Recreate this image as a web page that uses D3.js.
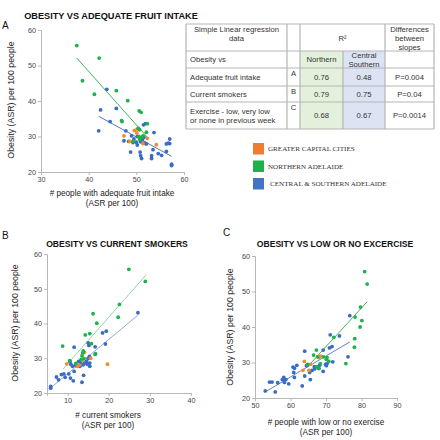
<!DOCTYPE html>
<html><head><meta charset="utf-8">
<script src="https://cdn.jsdelivr.net/npm/d3@7"></script>
<style>
html,body{margin:0;padding:0;background:#fff;}
svg{display:block;font-family:"Liberation Sans",Arial,sans-serif;}
</style></head>
<body>
<script>
// ---------- DATA ----------
// Panel A: adequate fruit intake vs obesity
const aGreen = [[37.5,55.6],[42.2,52.1],[38.7,45.7],[41.2,41.9],[45.8,42.9],[48.2,40.1],[46.9,34.5],[47.0,34.2],[50.6,37.2],[51.0,36.8],[52.3,33.6],[52.1,31.2],[50.4,32.3],[50.7,31.9],[50.5,30.0],[51.1,29.8],[51.4,30.2],[49.3,28.6],[50.7,29.1]];
const aBlue = [[43.8,43.3],[42.5,37.5],[45.8,37.9],[44.5,34.2],[42.1,31.6],[47.8,31.6],[47.4,28.8],[48.4,28.6],[48.8,25.6],[49.0,30.2],[49.5,29.3],[50.0,28.4],[50.2,30.0],[50.9,28.5],[51.3,29.1],[51.5,33.3],[51.9,33.6],[51.6,29.8],[51.8,28.1],[52.1,27.9],[50.8,25.6],[50.9,24.6],[51.1,23.8],[53.2,23.8],[53.2,24.6],[53.5,26.3],[53.7,31.1],[54.6,25.2],[55.3,24.7],[56.3,27.9],[56.7,28.1],[57.0,29.3],[57.0,28.0],[56.3,25.8],[57.4,22.2],[57.4,21.8],[50.2,27.6],[49.3,28.3]];
const aOrange = [[47.4,30.2],[48.6,28.6],[49.6,31.7],[50.2,32.1],[51.4,28.0],[52.3,29.5],[54.2,27.7],[50.1,31.0]];
const aGreenFit = [[37.5,52.1],[52.3,29.8]];
const aBlueFit = [[42.1,35.7],[57.4,24.4]];

// Panel B: current smokers vs obesity
const bGreen = [[24.9,55.6],[28.9,52.1],[22.6,45.5],[22.3,41.8],[17.1,40.1],[16.2,42.8],[14.3,36.7],[15.4,37.1],[8.8,33.5],[15.8,34.2],[16.8,31.3],[13.7,31.5],[13.5,30.7],[13.3,29.7],[14.0,29.9],[10.5,29.3],[12.0,28.5],[16.7,31.1],[13.8,32.1]];
const bBlue = [[27.1,43.1],[19.4,37.8],[18.5,37.3],[19.2,34.1],[16.7,33.3],[15.0,34.4],[15.2,33.7],[11.6,33.2],[15.3,30.5],[15.0,29.9],[14.6,29.1],[14.2,28.6],[13.8,28.1],[14.8,28.3],[15.4,27.7],[15.4,28.6],[13.0,27.7],[10.8,28.3],[11.2,27.7],[10.6,29.1],[12.0,27.9],[11.6,26.2],[10.3,25.5],[9.1,25.5],[8.5,25.3],[9.4,24.5],[7.3,24.6],[7.8,23.8],[10.7,24.3],[11.4,23.5],[13.5,23.1],[13.9,25.1],[5.9,21.9],[5.9,21.4],[12.7,29.1],[13.2,28.8]];
const bOrange = [[9.8,28.4],[12.4,27.7],[12.8,28.0],[14.1,31.7],[19.7,28.3],[15.6,30.0],[13.6,29.4]];
const bGreenFit = [[8.9,26.9],[29.1,54.0]];
const bBlueFit = [[5.7,21.3],[27.0,42.3]];

// Panel C: low or no exercise vs obesity
const cGreen = [[80.9,55.6],[81.6,52.1],[79.7,45.6],[78.2,42.8],[80.1,41.8],[79.6,40.0],[78.1,36.7],[78.0,34.3],[75.6,29.7],[72.2,37.1],[67.3,33.5],[66.5,32.1],[67.6,31.6],[69.3,31.6],[70.3,31.4],[70.1,30.9],[70.8,30.3],[64.8,29.5],[67.4,28.8],[67.9,28.4],[68.4,29.7]];
const cBlue = [[76.7,43.2],[71.2,37.8],[73.8,37.5],[64.0,33.2],[71.7,34.5],[71.0,34.1],[69.2,33.5],[76.2,31.6],[71.9,30.2],[69.9,29.5],[68.2,29.2],[68.0,28.3],[69.2,27.5],[66.1,27.8],[66.8,28.2],[65.4,27.2],[64.5,29.1],[61.8,29.2],[61.1,28.4],[60.7,28.7],[60.9,27.2],[61.1,25.8],[64.0,26.2],[65.6,25.2],[63.3,23.4],[58.1,25.8],[57.7,25.2],[58.7,25.2],[56.4,24.3],[58.3,24.4],[59.5,24.0],[54.8,24.5],[54.1,24.5],[55.7,21.7],[52.9,22.0],[70.1,29.1],[70.3,29.7],[66.7,28.8]];
const cOrange = [[63.9,30.3],[63.5,27.8],[65.2,27.8],[65.6,29.5],[68.4,31.8],[68.0,31.4]];
const cGreenFit = [[64.8,28.8],[81.6,47.1]];
const cBlueFit = [[52.7,21.6],[76.7,35.8]];

const yTicks = [20,30,40,50,60];
const aXTicks = [30,40,50,60];
const bXTicks = [10,20,30,40];
const cXTicks = [50,60,70,80,90];

// Table
const tableHeader1 = ["Simple Linear regression","data"];
const tableR2 = "R\u00B2";
const tableDiffHeader = ["Differences","between","slopes"];
const tableRowLabels = [["Obesity vs"],["Adequate fruit intake"],["Current smokers"],["Exercise - low, very low","or none in previous week"]];
const tableLetters = ["", "A","B","C"];
const tableNorthern = ["Northern","0.76","0.79","0.68"];
const tableCentral = [["Central","Southern"],["0.48"],["0.75"],["0.67"]];
const tablePvals = ["","P=0.004","P=0.04","P=0.0014"];

const legendLabels = ["GREATER CAPITAL CITIES","NORTHERN ADELAIDE","CENTRAL & SOUTHERN ADELAIDE"];

// ---------- STYLE ----------
const COL = {green:"#1fb14c", blue:"#3b6cc5", orange:"#f28a2e"};
const LEG = ["#ee7d33","#1eb04b","#4472c4"];

const svg = d3.select("body").append("svg").attr("width",440).attr("height",440);

function panel(o){
  const x = d3.scaleLinear().domain(o.xd).range(o.xr);
  const y = d3.scaleLinear().domain([20,60]).range(o.yr);
  const g = svg.append("g");
  const xa = g.append("g").attr("transform",`translate(0,${o.yr[0]})`)
    .call(d3.axisBottom(x).tickValues(o.xt).tickSize(3).tickPadding(2).tickFormat(d3.format("d")));
  const ya = g.append("g").attr("transform",`translate(${o.xr[0]},0)`)
    .call(d3.axisLeft(y).tickValues(yTicks).tickSize(3).tickPadding(2).tickFormat(d3.format("d")));
  [xa,ya].forEach(a=>{
    a.selectAll("path.domain").attr("stroke","#b8b8b8");
    a.selectAll(".tick line").attr("stroke","#b8b8b8");
    a.selectAll(".tick text").attr("fill","#444").style("font-size","7.2px").style("font-family","Liberation Sans, Arial, sans-serif");
  });
  const line = d3.line().x(d=>x(d[0])).y(d=>y(d[1]));
  g.append("path").attr("d",line(o.gf)).attr("stroke",o.lg).attr("stroke-width",1).attr("fill","none");
  g.append("path").attr("d",line(o.bf)).attr("stroke",o.lb).attr("stroke-width",1).attr("fill","none");
  const dots=(arr,c)=>g.append("g").selectAll("circle").data(arr).join("circle")
    .attr("cx",d=>x(d[0])).attr("cy",d=>y(d[1])).attr("r",1.9).attr("fill",c);
  dots(o.blue,COL.blue); dots(o.orange,COL.orange); dots(o.green,COL.green);
  // titles & labels
  g.append("text").attr("x",o.title[1]).attr("y",o.title[2]).attr("text-anchor","middle")
    .style("font-size",o.title[3]+"px").style("font-weight","bold").attr("fill","#111").text(o.title[0]);
  g.append("text").attr("x",o.letter[1]).attr("y",o.letter[2]).style("font-size","10px").attr("fill","#111").text(o.letter[0]);
  g.append("text").attr("transform",`translate(${o.ylab[0]},${o.ylab[1]}) rotate(-90)`).attr("text-anchor","middle")
    .attr("dy","0.35em").style("font-size","8.8px").attr("fill","#222").text("Obesity (ASR) per 100 people");
  g.append("text").attr("x",o.xlab[0]).attr("y",o.xlab[1]).attr("text-anchor","middle").style("font-size","8.2px").attr("fill","#222").text(o.xlab[2]);
  g.append("text").attr("x",o.xlab[0]).attr("y",o.xlab[1]+10).attr("text-anchor","middle").style("font-size","8.2px").attr("fill","#222").text("(ASR per 100)");
}

panel({xd:[30,60],xr:[41,184],yr:[172,30],xt:aXTicks,green:aGreen,blue:aBlue,orange:aOrange,gf:aGreenFit,bf:aBlueFit,
  lg:"#3fb35d",lb:"#5577c4",title:["OBESITY VS ADEQUATE FRUIT INTAKE",111,18.5,9.2],letter:["A",2,29],ylab:[11,100],xlab:[112,196,"# people with adequate fruit intake"]});
panel({xd:[5,40],xr:[47,191],yr:[393,254],xt:bXTicks,green:bGreen,blue:bBlue,orange:bOrange,gf:bGreenFit,bf:bBlueFit,
  lg:"#93d6a7",lb:"#95a9d9",title:["OBESITY VS CURRENT SMOKERS",117,246.5,8.6],letter:["B",2,239],ylab:[15,323],xlab:[108,418,"# current smokers"]});
panel({xd:[50,90],xr:[255,397],yr:[398,256],xt:cXTicks,green:cGreen,blue:cBlue,orange:cOrange,gf:cGreenFit,bf:cBlueFit,
  lg:"#44b560",lb:"#6383cc",title:["OBESITY VS LOW OR NO EXCERCISE",335,246.5,8.6],letter:["C",223,236],ylab:[230,327],xlab:[326,425,"# people with low or no exercise"]});

// ---------- TABLE ----------
const cols=[186,287,300,343,385,434];
const rows=[24,51,68,86,102,129];
const tg=svg.append("g").style("font-size","7.7px").attr("fill","#333");
tg.append("rect").attr("x",cols[2]).attr("y",rows[1]).attr("width",cols[3]-cols[2]).attr("height",rows[5]-rows[1]).attr("fill","#e3f0dc");
tg.append("rect").attr("x",cols[3]).attr("y",rows[1]).attr("width",cols[4]-cols[3]).attr("height",rows[5]-rows[1]).attr("fill","#dce4f4");
const ls="#b5b5b5";
rows.forEach(r=>tg.append("line").attr("x1",cols[0]).attr("x2",cols[5]).attr("y1",r).attr("y2",r).attr("stroke",ls).attr("stroke-width",1.2));
[0,1,2,4,5].forEach(i=>tg.append("line").attr("x1",cols[i]).attr("x2",cols[i]).attr("y1",rows[0]).attr("y2",rows[5]).attr("stroke",ls).attr("stroke-width",1.2));
tg.append("line").attr("x1",cols[3]).attr("x2",cols[3]).attr("y1",rows[1]).attr("y2",rows[5]).attr("stroke",ls).attr("stroke-width",1.2);
const T=(t,x,y,anc)=>tg.append("text").attr("x",x).attr("y",y).attr("text-anchor",anc||"start").attr("fill","#333").text(t);
T(tableHeader1[0],(cols[0]+cols[1])/2,32,"middle");
T(tableHeader1[1],(cols[0]+cols[1])/2,41,"middle");
T(tableR2,(cols[2]+cols[4])/2,41,"middle");
tableDiffHeader.forEach((t,i)=>T(t,(cols[4]+cols[5])/2,32+i*9.2,"middle"));
tableRowLabels.forEach((lab,i)=>{
  const top=rows[i+1], bot=rows[i+2], mid=(top+bot)/2;
  if(lab.length===1) T(lab[0],190,mid+2.8);
  else { T(lab[0],190,mid-1.6); T(lab[1],190,mid+7.2); }
  if(tableLetters[i]) T(tableLetters[i],(cols[1]+cols[2])/2,top+8,"middle");
  const c=tableCentral[i];
  if(c.length===1) T(c[0],(cols[3]+cols[4])/2,mid+2.8,"middle");
  else { T(c[0],(cols[3]+cols[4])/2,mid-1.6,"middle"); T(c[1],(cols[3]+cols[4])/2,mid+7.2,"middle"); }
  T(tableNorthern[i],(cols[2]+cols[3])/2,mid+2.8,"middle");
  if(tablePvals[i]) T(tablePvals[i],(cols[4]+cols[5])/2,mid+2.8,"middle");
});

// ---------- LEGEND ----------
const lg=svg.append("g");
legendLabels.forEach((t,i)=>{
  const yy=143+i*17.5;
  lg.append("rect").attr("x",253).attr("y",yy).attr("width",11).attr("height",11.5).attr("fill",LEG[i]);
  lg.append("text").attr("x",i===2?270:268).attr("y",yy+8.2).style("font-family","Liberation Serif, Times New Roman, serif")
    .style("font-size","7.1px").attr("fill","#333").text(t);
});
</script>
</body></html>
